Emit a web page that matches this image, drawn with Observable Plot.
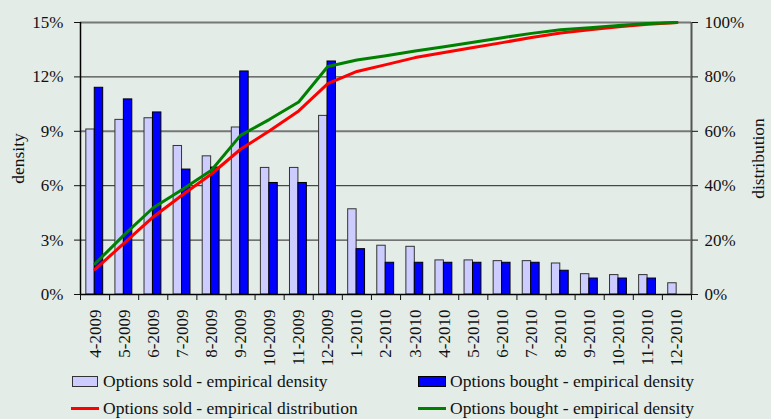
<!DOCTYPE html>
<html>
<head>
<meta charset="utf-8">
<script src="https://cdn.jsdelivr.net/npm/d3@7"></script>
<script src="https://cdn.jsdelivr.net/npm/@observablehq/plot@0.6"></script>
<style>
  html, body { margin: 0; padding: 0; background: #e4ece7; }
  #wrap { width: 771px; height: 419px; position: relative; overflow: hidden; }
  #legend { position: relative; width: 771px; height: 54px; font-family: "Liberation Serif", "Times New Roman", serif; font-size: 17.5px; color: #111; }
  #legend div { position: absolute; box-sizing: border-box; }
  .lt { height: 22px; line-height: 22px; white-space: nowrap; }
</style>
</head>
<body>
<div id="wrap">
  <div id="chart"></div>
  <div id="legend">
    <div style="left:72px; top:11px; width:26px; height:11px; background:#ccccff; border:1px solid #333;"></div>
    <div class="lt" style="left:103px; top:5px;">Options sold - empirical density</div>
    <div style="left:418px; top:11px; width:28px; height:11px; background:#0000ff; border:1px solid #000;"></div>
    <div class="lt" style="left:450px; top:5px;">Options bought - empirical density</div>
    <div style="left:71px; top:41.5px; width:28px; height:3px; background:#ff0000;"></div>
    <div class="lt" style="left:103px; top:32px;">Options sold - empirical distribution</div>
    <div style="left:418px; top:41.5px; width:28px; height:3px; background:#008000;"></div>
    <div class="lt" style="left:450px; top:32px;">Options bought - empirical density</div>
  </div>
</div>
<script>
const categories = ["4-2009","5-2009","6-2009","7-2009","8-2009","9-2009","10-2009","11-2009","12-2009",
  "1-2010","2-2010","3-2010","4-2010","5-2010","6-2010","7-2010","8-2010","9-2010","10-2010","11-2010","12-2010"];
// empirical densities, in %
const soldDensity   = [9.1, 9.63, 9.72, 8.19, 7.62, 9.21, 6.98, 6.98, 9.85, 4.70, 2.69, 2.63, 1.88, 1.88, 1.84, 1.84, 1.71, 1.12, 1.07, 1.07, 0.62];
const boughtDensity = [11.4, 10.76, 10.04, 6.89, 7.0, 12.3, 6.15, 6.15, 12.85, 2.5, 1.75, 1.75, 1.75, 1.75, 1.75, 1.75, 1.31, 0.88, 0.88, 0.88, 0];
// empirical distributions, in %
const soldDist   = [9.2, 18.9, 28.5, 36.6, 44.3, 53.4, 60.2, 67.5, 77.5, 82.0, 84.5, 87.1, 89.0, 90.8, 92.6, 94.5, 96.1, 97.3, 98.4, 99.4, 100];
const boughtDist = [11.3, 21.9, 31.9, 38.6, 45.7, 58.5, 64.4, 70.8, 83.8, 86.2, 87.8, 89.5, 91.1, 92.7, 94.4, 96.0, 97.3, 98.1, 98.9, 99.6, 100];
const leftTicks = [0, 0.03, 0.06, 0.09, 0.12, 0.15];

const rows = categories.map((c, i) => ({
  i, c,
  sold: soldDensity[i] / 100,
  bought: boughtDensity[i] / 100,
  soldDist: soldDist[i] / 100,
  boughtDist: boughtDist[i] / 100
}));
const yMax = 0.15; // left axis max; right axis 100% maps onto it
const serif = '"Liberation Serif", "Times New Roman", serif';

const chart = Plot.plot({
  width: 771,
  height: 365,
  marginLeft: 80,
  marginRight: 80,
  marginTop: 22,
  marginBottom: 71,
  style: { background: "transparent", fontFamily: serif, fontSize: "17px", color: "#111", overflow: "visible" },
  x: { domain: [0, categories.length], axis: null },
  y: { domain: [0, yMax], axis: null },
  marks: [
    Plot.ruleY([0.03, 0.06, 0.12], { stroke: "#222", strokeWidth: 1 }),
    Plot.ruleY([0.09, 0.15], { stroke: "#777", strokeWidth: 2 }),
    Plot.rectY(rows, { x1: d => d.i + 0.2, x2: d => d.i + 0.49, y: "sold", fill: "#ccccff", stroke: "#333", strokeWidth: 1 }),
    Plot.rectY(rows.filter(d => d.bought > 0), { x1: d => d.i + 0.49, x2: d => d.i + 0.78, y: "bought", fill: "#0000ff", stroke: "#000", strokeWidth: 1 }),
    Plot.line(rows, { x: d => d.i + 0.5, y: d => d.soldDist * yMax, stroke: "#ff0000", strokeWidth: 3 }),
    Plot.line(rows, { x: d => d.i + 0.5, y: d => d.boughtDist * yMax, stroke: "#008000", strokeWidth: 3 }),
    Plot.ruleX([0], { stroke: "#000", strokeWidth: 1.5 }),
    Plot.ruleX([categories.length], { stroke: "#555", strokeWidth: 2 }),
    Plot.ruleY([0], { stroke: "#000", strokeWidth: 1.5 }),
    Plot.axisY(leftTicks, { anchor: "left", tickFormat: d => Math.round(d * 100) + "%", tickSize: 6, tickPadding: 11, label: null, fontSize: 17 }),
    Plot.axisY(leftTicks, { anchor: "right", tickFormat: d => Math.round(d / yMax * 100) + "%", tickSize: 6, tickPadding: 7, label: null, fontSize: 17 }),
    Plot.axisX(d3.range(categories.length + 1), { anchor: "bottom", tickSize: 6, tickFormat: () => "", label: null }),
    Plot.axisX(rows.map(d => d.i + 0.5), { anchor: "bottom", tickSize: 0, tickPadding: 15, tickRotate: -90, tickFormat: d => categories[Math.floor(d)], label: null, fontSize: 17 }),
    Plot.text(["density"], { text: d => d, frameAnchor: "left", textAnchor: "middle", dx: -62, rotate: -90, fontSize: 17.5 }),
    Plot.text(["distribution"], { text: d => d, frameAnchor: "right", textAnchor: "middle", dx: 67, rotate: -90, fontSize: 17.5 })
  ]
});
document.getElementById("chart").appendChild(chart);
</script>
</body>
</html>
